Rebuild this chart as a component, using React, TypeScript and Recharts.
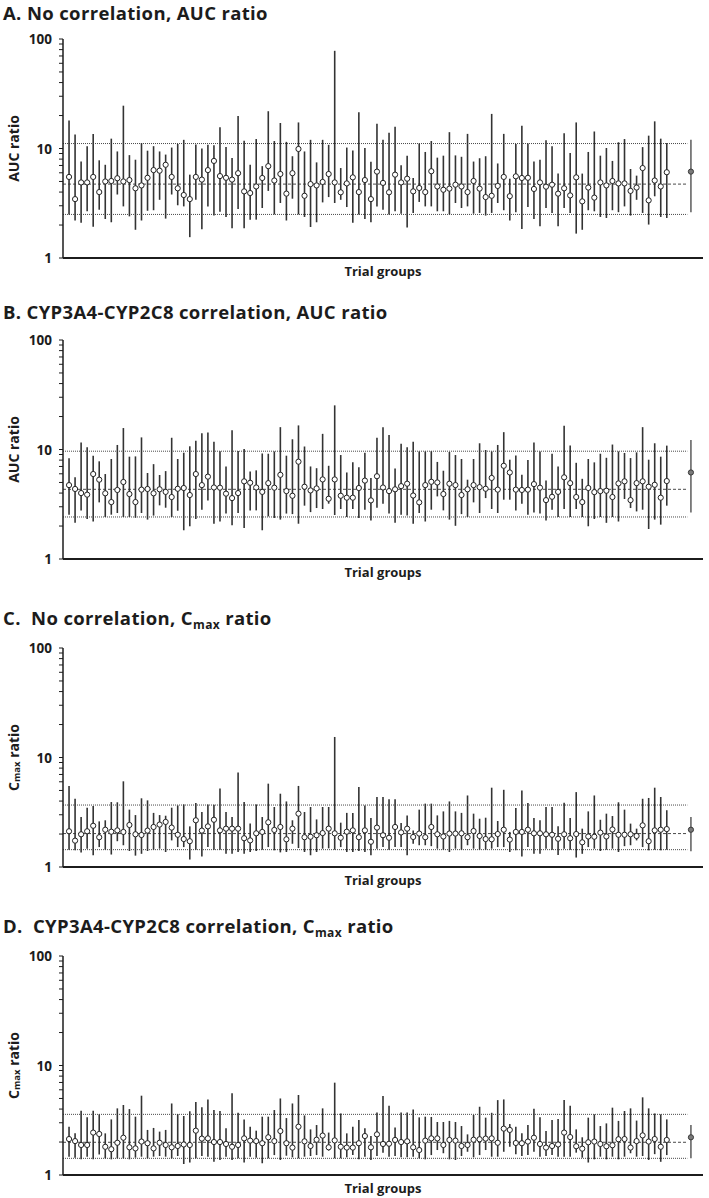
import React from "react";
import { ComposedChart, ErrorBar, ReferenceLine, Scatter, XAxis, YAxis } from "recharts";

// Panel A: no correlation, AUC ratio
const aucNoCorrMid = [
  5.5, 3.45, 4.9, 4.9, 5.5, 4.0, 5.0, 5.05, 5.35, 5.0,
  5.15, 4.33, 4.6, 5.4, 6.35, 6.27, 7.1, 5.5, 4.33, 3.76,
  3.45, 5.5, 5.2, 6.35, 7.7, 5.6, 5.4, 5.2, 5.95, 4.06,
  3.92, 4.5, 5.38, 6.9, 5.1, 5.85, 3.87, 5.95, 9.9, 3.7,
  4.73, 4.6, 4.95, 5.85, 4.9, 3.98, 4.8, 5.45, 4.0, 5.15,
  3.45, 6.15, 4.85, 3.98, 5.77, 4.9, 5.3, 4.06, 4.36, 4.0,
  6.2, 4.5, 4.2, 4.3, 4.67, 4.5, 4.0, 5.05, 4.3, 3.6,
  3.7, 4.55, 5.5, 3.67, 5.57, 5.38, 5.4, 4.27, 4.9, 4.48,
  4.67, 3.87, 4.33, 3.73, 5.45, 3.29, 4.4, 3.56, 4.9, 4.6,
  5.05, 4.8, 4.8, 4.1, 4.4, 6.63, 3.36, 5.1, 4.5, 6.07,
];
const aucNoCorrHigh = [
  18.0, 13.4, 7.6, 10.5, 13.6, 7.8, 7.1, 12.3, 9.4, 24.6,
  8.7, 7.9, 11.2, 9.55, 10.5, 9.4, 8.8, 10.2, 11.0, 12.0,
  5.77, 10.9, 10.0, 10.8, 10.7, 15.6, 10.3, 8.2, 19.8, 11.8,
  7.1, 12.2, 6.9, 21.9, 11.7, 17.1, 11.5, 8.5, 17.3, 9.4,
  12.0, 7.47, 12.0, 10.8, 78, 6.63, 10.2, 9.6, 21.4, 10.1,
  7.55, 16.8, 12.0, 13.9, 15.8, 7.03, 8.6, 5.38, 11.1, 9.3,
  11.7, 8.25, 8.6, 14.1, 8.65, 8.4, 13.6, 7.6, 8.15, 8.5,
  20.7, 7.3, 13.6, 5.3, 11.0, 16.1, 11.1, 7.6, 7.9, 11.9,
  10.5, 5.9, 13.8, 9.1, 17.3, 5.9, 9.3, 14.3, 8.6, 10.1,
  7.7, 11.4, 12.2, 6.5, 5.65, 10.3, 13.1, 17.7, 12.3, 11.2,
];
const aucNoCorrLow = [
  2.5, 2.2, 2.1, 2.67, 1.93, 2.76, 2.27, 2.12, 3.8, 2.96,
  2.4, 1.81, 2.2, 2.7, 2.73, 3.4, 2.29, 3.8, 3.03, 2.96,
  1.55, 3.4, 1.83, 2.96, 2.44, 2.65, 2.37, 1.87, 2.8, 1.87,
  2.24, 2.24, 2.86, 4.1, 2.5, 3.18, 2.2, 3.48, 2.5, 2.37,
  1.92, 2.12, 3.22, 3.6, 3.18, 3.4, 2.92, 2.1, 2.5, 2.27,
  2.12, 2.96, 2.76, 2.5, 2.67, 2.54, 1.9, 2.58, 3.25, 2.96,
  2.96, 2.67, 2.67, 2.5, 3.18, 2.86, 2.96, 2.54, 2.58, 2.44,
  2.58, 3.18, 2.73, 2.2, 2.62, 1.84, 2.92, 2.27, 1.95, 2.86,
  2.58, 1.95, 2.86, 2.58, 1.67, 1.81, 2.73, 2.67, 2.37, 2.32,
  2.73, 2.62, 2.96, 2.44, 3.4, 2.58, 2.02, 3.66, 2.37, 2.32,
];
const aucNoCorrObserved = [6.15, 2.62, 12.0]; // mid, low, high
const aucNoCorrRefs = [2.5, 4.73, 11.1];

// Panel B: CYP3A4-CYP2C8 correlation, AUC ratio
const aucCorrMid = [
  4.73, 4.36, 4.0, 3.87, 5.97, 5.3, 3.98, 3.31, 4.27, 5.05,
  3.92, 3.31, 4.3, 4.36, 3.98, 4.33, 4.1, 3.68, 4.38, 4.45,
  3.84, 5.97, 4.73, 5.65, 4.5, 4.48, 3.95, 3.6, 4.0, 5.12,
  4.97, 4.5, 4.1, 4.93, 4.48, 5.87, 4.17, 3.78, 7.74, 4.57,
  4.23, 4.41, 5.33, 3.55, 5.33, 3.78, 3.63, 3.63, 4.45, 5.2,
  3.43, 5.7, 4.5, 4.17, 4.33, 4.63, 4.87, 3.8, 3.29, 4.73,
  5.07, 5.0, 3.92, 4.87, 4.73, 3.84, 4.33, 4.73, 4.53, 4.38,
  5.5, 4.3, 7.1, 6.17, 4.3, 4.27, 4.3, 4.83, 4.48, 3.45,
  3.7, 4.1, 5.57, 4.93, 3.68, 3.31, 4.45, 4.08, 4.17, 4.2,
  3.68, 4.9, 5.12, 3.45, 4.93, 5.12, 4.57, 4.76, 3.63, 5.15,
];
const aucCorrHigh = [
  8.3, 5.57, 11.6, 10.5, 8.78, 7.8, 5.97, 8.19, 11.0, 15.7,
  8.6, 8.65, 12.9, 6.1, 7.35, 5.85, 6.35, 12.8, 8.19, 9.35,
  10.7, 12.0, 14.1, 14.3, 11.8, 9.65, 7.0, 15.0, 9.7, 10.1,
  6.3, 6.45, 9.2, 9.15, 9.6, 16.0, 8.78, 12.4, 16.6, 10.65,
  7.0, 6.75, 13.9, 7.1, 25.3, 8.9, 6.17, 7.63, 6.9, 9.35,
  5.5, 12.8, 16.0, 13.6, 6.7, 11.3, 10.5, 11.8, 9.6, 9.6,
  9.65, 7.7, 6.4, 9.5, 8.9, 8.19, 5.3, 8.19, 11.4, 9.9,
  9.6, 11.0, 14.4, 8.07, 8.83, 5.87, 8.0, 11.6, 9.6, 5.2,
  9.15, 7.0, 16.5, 10.9, 7.56, 5.4, 8.19, 7.63, 9.15, 8.4,
  11.1, 9.6, 9.3, 8.35, 9.42, 16.0, 8.07, 11.4, 8.6, 10.85,
];
const aucCorrLow = [
  2.54, 2.14, 2.78, 2.32, 2.2, 3.29, 2.42, 2.54, 2.63, 2.42,
  2.42, 2.38, 2.63, 2.29, 2.49, 3.09, 2.94, 2.42, 2.76, 1.83,
  1.99, 2.32, 2.82, 3.43, 2.1, 2.2, 2.6, 2.03, 2.63, 1.92,
  2.78, 2.78, 1.83, 2.45, 2.37, 2.29, 2.6, 2.57, 2.1, 3.07,
  2.68, 2.92, 2.86, 3.2, 2.52, 2.86, 2.42, 2.86, 2.37, 2.82,
  2.25, 2.94, 3.2, 2.6, 2.14, 2.54, 2.49, 2.1, 2.63, 2.2,
  2.82, 3.73, 2.78, 2.29, 2.01, 2.57, 2.42, 3.29, 2.63, 3.6,
  2.86, 2.63, 3.48, 3.48, 2.78, 3.2, 2.54, 2.66, 2.6, 2.25,
  2.82, 2.42, 2.86, 2.42, 2.86, 2.42, 1.99, 2.32, 2.42, 2.14,
  2.42, 2.2, 3.53, 2.92, 2.72, 2.82, 1.88, 2.29, 2.06, 3.07,
];
const aucCorrObserved = [6.17, 2.66, 12.2];
const aucCorrRefs = [2.42, 4.33, 9.65];

// Panel C: no correlation, Cmax ratio
const cmaxNoCorrMid = [
  2.12, 1.74, 1.99, 2.12, 2.38, 1.87, 2.19, 2.1, 2.16, 2.09,
  2.42, 1.99, 1.96, 2.15, 2.32, 2.44, 2.58, 2.29, 1.97, 1.8,
  1.72, 2.67, 2.15, 2.35, 2.7, 2.16, 2.24, 2.24, 2.24, 1.83,
  1.75, 2.03, 2.09, 2.56, 2.18, 2.32, 1.79, 2.24, 3.07, 1.87,
  1.89, 1.95, 2.04, 2.24, 2.03, 1.85, 2.1, 2.16, 1.87, 2.16,
  1.7, 2.29, 1.95, 1.85, 2.32, 2.07, 2.24, 1.88, 2.02, 1.87,
  2.32, 1.99, 1.9, 2.02, 2.02, 2.03, 1.87, 2.13, 1.92, 1.8,
  1.79, 2.0, 2.19, 1.78, 2.09, 2.09, 2.19, 2.03, 2.03, 1.99,
  1.97, 1.81, 1.99, 1.83, 2.0, 1.68, 1.9, 1.89, 2.06, 1.9,
  2.2, 1.97, 1.97, 1.99, 1.92, 2.4, 1.72, 2.16, 2.19, 2.22,
];
const cmaxNoCorrHigh = [
  5.5, 4.2, 2.86, 3.48, 3.6, 2.61, 2.67, 3.92, 3.9, 6.06,
  3.34, 2.98, 4.24, 4.06, 3.12, 2.98, 2.94, 3.48, 3.65, 3.73,
  2.35, 3.84, 3.18, 3.73, 3.7, 5.2, 3.18, 2.86, 7.3, 3.92,
  2.49, 3.73, 2.86, 5.77, 3.53, 4.67, 3.97, 2.67, 5.5, 3.18,
  3.53, 2.72, 3.53, 3.53, 15.4, 2.54, 3.12, 3.12, 5.38, 3.65,
  2.8, 4.36, 4.36, 4.15, 4.15, 2.52, 2.96, 2.16, 3.34, 3.79,
  3.79, 2.96, 3.22, 3.97, 3.22, 3.12, 4.5, 3.07, 2.76, 2.82,
  5.3, 2.63, 5.07, 2.09, 3.46, 5.0, 3.84, 2.8, 2.67, 3.53,
  3.53, 2.35, 3.87, 2.8, 4.83, 2.24, 3.22, 4.5, 2.7, 3.07,
  2.92, 3.9, 3.34, 2.49, 2.24, 4.2, 4.27, 5.3, 4.36, 3.3,
];
const cmaxNoCorrLow = [
  1.44, 1.42, 1.36, 1.47, 1.28, 1.52, 1.44, 1.3, 1.72, 1.58,
  1.4, 1.27, 1.32, 1.4, 1.44, 1.47, 1.37, 1.75, 1.52, 1.52,
  1.17, 1.44, 1.25, 1.52, 1.44, 1.44, 1.32, 1.32, 1.37, 1.32,
  1.37, 1.4, 1.44, 1.52, 1.42, 1.36, 1.37, 1.63, 1.49, 1.37,
  1.28, 1.37, 1.47, 1.48, 1.44, 1.52, 1.37, 1.37, 1.4, 1.37,
  1.28, 1.47, 1.52, 1.44, 1.52, 1.52, 1.28, 1.63, 1.58, 1.58,
  1.55, 1.47, 1.44, 1.37, 1.47, 1.44, 1.58, 1.47, 1.44, 1.44,
  1.47, 1.52, 1.52, 1.37, 1.42, 1.25, 1.52, 1.32, 1.32, 1.47,
  1.44, 1.29, 1.47, 1.44, 1.22, 1.32, 1.52, 1.47, 1.4, 1.44,
  1.47, 1.37, 1.55, 1.58, 1.75, 1.52, 1.42, 1.44, 1.42, 1.44,
];
const cmaxNoCorrObserved = [2.19, 1.39, 2.86];
const cmaxNoCorrRefs = [1.44, 2.02, 3.68];

// Panel D: CYP3A4-CYP2C8 correlation, Cmax ratio
const cmaxCorrMid = [
  2.13, 2.04, 1.88, 1.88, 2.44, 2.37, 1.81, 1.72, 1.97, 2.19,
  1.79, 1.75, 2.02, 1.95, 1.75, 1.97, 1.88, 1.79, 1.84, 1.9,
  1.88, 2.54, 2.15, 2.16, 2.0, 2.0, 1.92, 1.81, 1.88, 2.16,
  2.06, 2.04, 1.95, 2.21, 2.04, 2.52, 1.95, 1.78, 2.76, 2.03,
  1.84, 2.1, 2.29, 1.79, 2.07, 1.81, 1.78, 1.78, 1.95, 2.27,
  1.79, 2.35, 1.92, 1.93, 2.09, 2.0, 2.03, 1.79, 1.69, 2.06,
  2.16, 2.16, 1.88, 2.09, 2.06, 1.84, 1.88, 2.1, 2.12, 2.15,
  2.16, 1.97, 2.65, 2.58, 1.96, 1.95, 2.02, 2.19, 1.92, 1.78,
  1.84, 1.9, 2.44, 2.22, 1.83, 1.74, 1.99, 2.02, 1.92, 1.83,
  1.87, 2.12, 2.13, 1.78, 2.04, 2.3, 2.02, 2.13, 1.81, 2.09,
];
const cmaxCorrHigh = [
  2.76, 2.4, 3.87, 3.36, 3.87, 3.58, 2.4, 3.22, 4.06, 4.36,
  4.0, 3.41, 5.3, 2.58, 2.69, 2.49, 2.58, 4.5, 3.6, 3.46,
  3.82, 4.64, 4.15, 4.9, 3.92, 3.84, 2.67, 5.57, 3.7, 3.22,
  2.76, 2.54, 3.41, 3.41, 3.92, 5.0, 3.31, 4.5, 5.38, 3.5,
  2.61, 2.86, 4.06, 2.44, 6.97, 3.65, 2.4, 2.76, 3.18, 2.67,
  2.27, 3.73, 5.27, 4.3, 2.72, 3.73, 3.73, 3.97, 3.36, 3.41,
  3.39, 3.05, 3.05, 3.12, 3.05, 2.8, 2.35, 3.53, 4.2, 3.34,
  3.7, 4.83, 4.9, 2.92, 2.76, 2.4, 2.86, 4.03, 3.36, 2.52,
  3.18, 3.25, 4.83, 4.3, 2.61, 2.21, 3.34, 3.58, 2.8, 2.96,
  4.12, 3.12, 3.84, 4.06, 3.14, 5.12, 4.06, 3.65, 3.58, 3.22,
];
const cmaxCorrLow = [
  1.47, 1.44, 1.39, 1.47, 1.39, 1.54, 1.42, 1.39, 1.42, 1.42,
  1.39, 1.44, 1.47, 1.42, 1.47, 1.49, 1.47, 1.42, 1.49, 1.26,
  1.3, 1.42, 1.49, 1.47, 1.32, 1.37, 1.47, 1.37, 1.42, 1.3,
  1.47, 1.44, 1.28, 1.42, 1.52, 1.37, 1.5, 1.45, 1.42, 1.47,
  1.49, 1.52, 1.47, 1.67, 1.42, 1.42, 1.45, 1.52, 1.39, 1.47,
  1.37, 1.49, 1.6, 1.47, 1.49, 1.45, 1.45, 1.47, 1.42, 1.39,
  1.52, 1.69, 1.58, 1.39, 1.37, 1.49, 1.63, 1.45, 1.52, 1.69,
  1.47, 1.47, 1.63, 1.81, 1.55, 1.49, 1.52, 1.63, 1.47, 1.49,
  1.52, 1.47, 1.47, 1.47, 1.6, 1.44, 1.3, 1.39, 1.47, 1.39,
  1.47, 1.39, 1.47, 1.58, 1.47, 1.49, 1.37, 1.55, 1.32, 1.52,
];
const cmaxCorrObserved = [2.21, 1.42, 2.86];
const cmaxCorrRefs = [1.42, 1.99, 3.58];

const yTicks = [1, 2, 3, 4, 5, 6, 7, 8, 9, 10, 20, 30, 40, 50, 60, 70, 80, 90, 100];
const majorTicks = [1, 10, 100];
const OBSERVED_X = 104;
const REF_END_X = 103.4;

const FONT = "'Open Sans', Lato, sans-serif";
const INK = "#1c1c1c";

type Row = { x: number; y: number; err: [number, number] };

function buildRows(mid: number[], low: number[], high: number[]): Row[] {
  return mid.map((m, i) => ({ x: i + 1, y: m, err: [m - low[i], high[i] - m] }));
}

function YTick({ x, y, payload }: any) {
  if (!majorTicks.includes(payload.value)) return <g />;
  return (
    <text x={x} y={y} textAnchor="end" dominantBaseline="central" fontFamily={FONT} fontWeight={700} fontSize={13.5} fill={INK}>
      {payload.value}
    </text>
  );
}

function YLabel({ viewBox, cmax }: any) {
  const cy = viewBox.y + viewBox.height / 2;
  return (
    <text
      transform={`translate(13,${cy}) rotate(-90)`}
      textAnchor="middle"
      dominantBaseline="central"
      fontFamily={FONT}
      fontWeight={700}
      fontSize={14}
      fill={INK}
    >
      {cmax ? (
        <>
          <tspan>C</tspan>
          <tspan fontSize={9.5} dy={3}>max</tspan>
          <tspan dy={-3}> ratio</tspan>
        </>
      ) : (
        "AUC ratio"
      )}
    </text>
  );
}

function XLabel({ viewBox }: any) {
  return (
    <text
      x={viewBox.x + viewBox.width / 2}
      y={viewBox.y + 13}
      textAnchor="middle"
      dominantBaseline="central"
      fontFamily={FONT}
      fontWeight={700}
      fontSize={13}
      fill={INK}
    >
      Trial groups
    </text>
  );
}

const WhiteDot = (p: any) => <circle cx={p.cx} cy={p.cy} r={2.6} fill="#fff" stroke="#222" strokeWidth={1} />;
const GreyDot = (p: any) => <circle cx={p.cx} cy={p.cy} r={2.6} fill="#7a7a7a" stroke="#3a3a3a" strokeWidth={1} />;

type PanelProps = {
  top: number;
  cmax: boolean;
  mid: number[];
  low: number[];
  high: number[];
  observed: number[];
  refs: number[];
};

function Panel({ top, cmax, mid, low, high, observed, refs }: PanelProps) {
  const rows = buildRows(mid, low, high);
  const obs = [{ x: OBSERVED_X, y: observed[0], err: [observed[0] - observed[1], observed[2] - observed[0]] }];
  return (
    <div style={{ position: "absolute", left: 0, top }}>
      <ComposedChart width={709} height={290} margin={{ top: 30, right: 6, bottom: 11, left: 13 }}>
        <XAxis
          type="number"
          dataKey="x"
          domain={[0, 106]}
          tick={false}
          tickLine={false}
          height={30}
          axisLine={{ stroke: INK, strokeWidth: 2.2 }}
          label={{ content: (props: any) => <XLabel {...props} /> }}
        />
        <YAxis
          type="number"
          dataKey="y"
          scale="log"
          domain={[1, 100]}
          allowDataOverflow
          ticks={yTicks}
          interval={0}
          width={50}
          tickSize={4}
          tickMargin={7}
          tick={<YTick />}
          tickLine={{ stroke: INK }}
          axisLine={{ stroke: INK, strokeWidth: 1.5 }}
          label={{ content: (props: any) => <YLabel {...props} cmax={cmax} /> }}
        />
        {refs.map((v, i) => (
          <ReferenceLine
            key={i}
            segment={[{ x: 0, y: v }, { x: REF_END_X, y: v }]}
            stroke="#4a4a4a"
            strokeWidth={1}
            strokeDasharray={i === 1 ? "3 2" : "1 1"}
          />
        ))}
        <Scatter data={rows} dataKey="y" shape={WhiteDot} isAnimationActive={false}>
          <ErrorBar dataKey="err" direction="y" width={0} stroke="#333" strokeWidth={1.6} isAnimationActive={false} />
        </Scatter>
        <Scatter data={obs} dataKey="y" shape={GreyDot} isAnimationActive={false}>
          <ErrorBar dataKey="err" direction="y" width={0} stroke="#666" strokeWidth={1.6} isAnimationActive={false} />
        </Scatter>
      </ComposedChart>
    </div>
  );
}

const titleStyle: React.CSSProperties = {
  position: "absolute",
  left: 3,
  fontFamily: FONT,
  fontWeight: 700,
  fontSize: 18.5,
  lineHeight: "18.5px",
  letterSpacing: 0.35,
  whiteSpace: "pre",
  color: INK,
};

const Sub = ({ children }: { children: React.ReactNode }) => (
  <span style={{ fontSize: 12, position: "relative", top: 4 }}>{children}</span>
);

export default function App() {
  return (
    <div style={{ position: "absolute", left: 0, top: 0, width: 709, height: 1198, background: "#fff", overflow: "hidden" }}>
      <Panel top={9} cmax={false} mid={aucNoCorrMid} low={aucNoCorrLow} high={aucNoCorrHigh} observed={aucNoCorrObserved} refs={aucNoCorrRefs} />
      <Panel top={310} cmax={false} mid={aucCorrMid} low={aucCorrLow} high={aucCorrHigh} observed={aucCorrObserved} refs={aucCorrRefs} />
      <Panel top={618} cmax mid={cmaxNoCorrMid} low={cmaxNoCorrLow} high={cmaxNoCorrHigh} observed={cmaxNoCorrObserved} refs={cmaxNoCorrRefs} />
      <Panel top={926} cmax mid={cmaxCorrMid} low={cmaxCorrLow} high={cmaxCorrHigh} observed={cmaxCorrObserved} refs={cmaxCorrRefs} />

      <div style={{ ...titleStyle, top: 3.5 }}>A. No correlation, AUC ratio</div>
      <div style={{ ...titleStyle, top: 302.5 }}>B. CYP3A4-CYP2C8 correlation, AUC ratio</div>
      <div style={{ ...titleStyle, top: 608.5 }}>
        C.  No correlation, C<Sub>max</Sub> ratio
      </div>
      <div style={{ ...titleStyle, top: 916.5 }}>
        D.  CYP3A4-CYP2C8 correlation, C<Sub>max</Sub> ratio
      </div>
    </div>
  );
}
